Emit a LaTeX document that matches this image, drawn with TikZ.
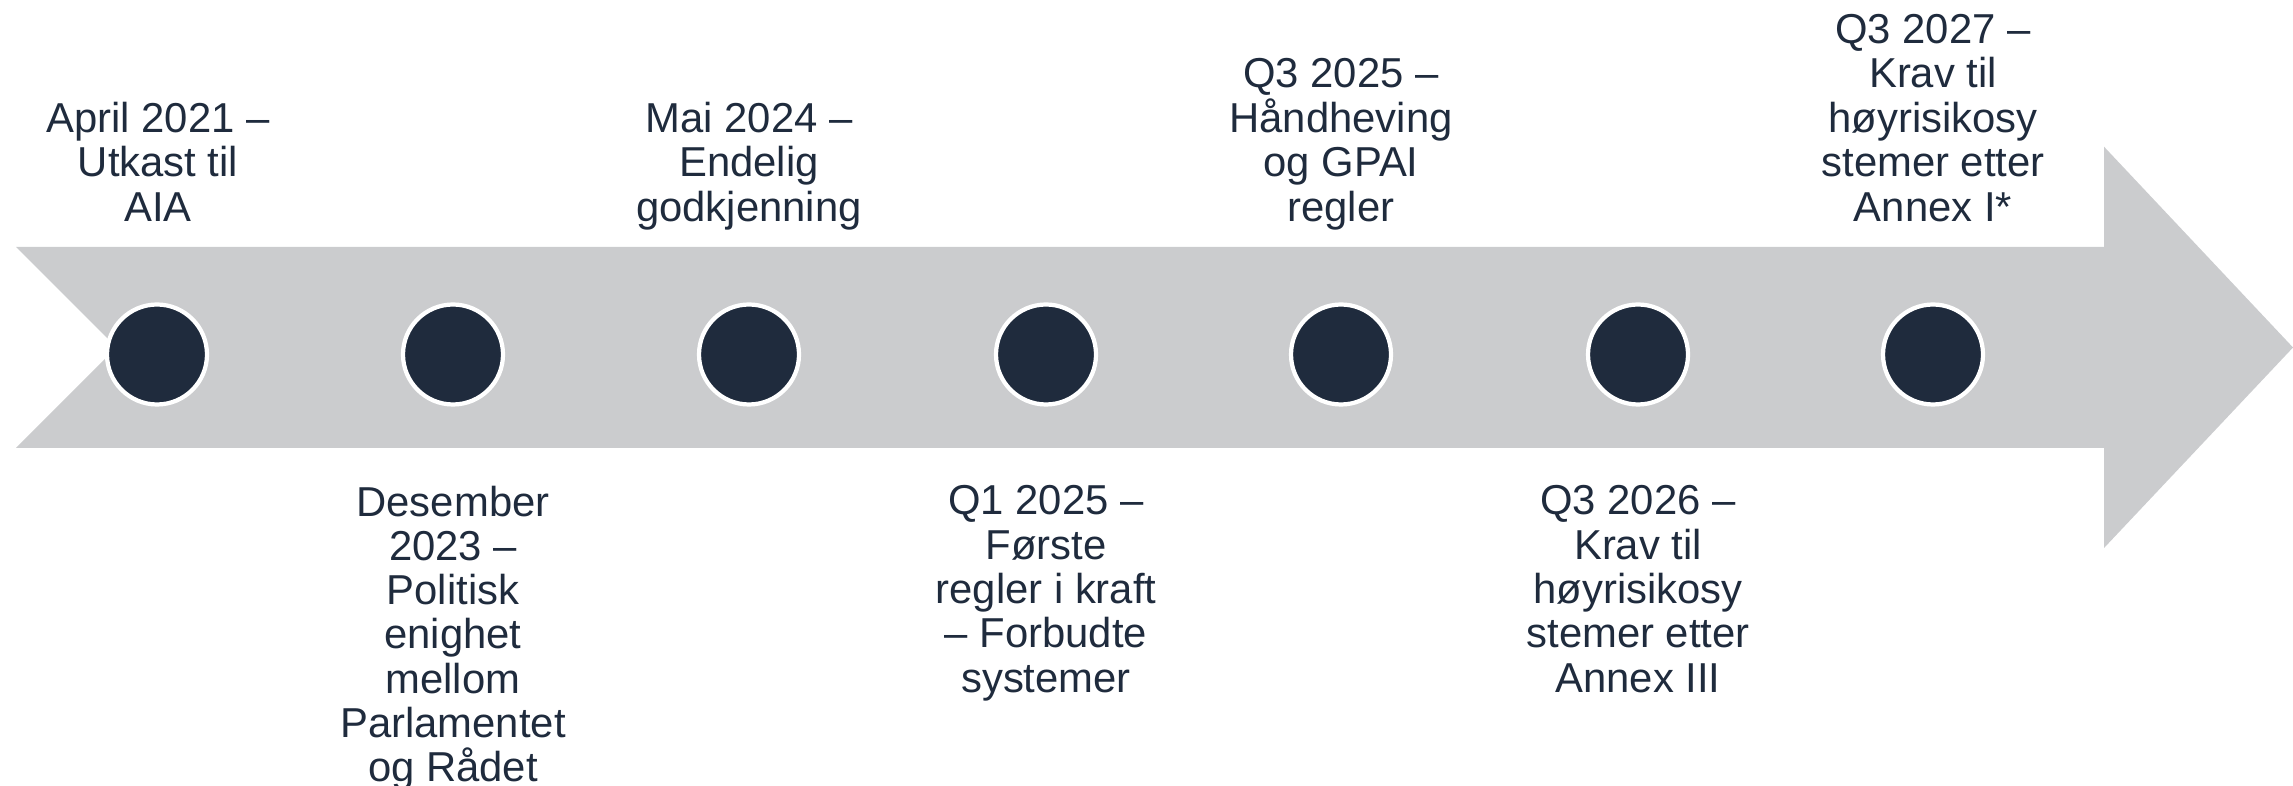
\documentclass[tikz,border=0pt]{standalone}
\usepackage{fontspec}
\setmainfont{Liberation Sans}
\usepackage{tikz}
\definecolor{arrowgray}{RGB}{203,204,206}
\definecolor{navy}{RGB}{31,43,61}
\tikzset{dot/.style={circle, fill=navy, draw=white, line width=1.2pt,
         minimum size=1.0cm, inner sep=0pt},
         toplabel/.style={anchor=south, align=center, inner sep=0pt,
         text=navy, font=\fontsize{11.9}{12.65}\selectfont, text depth=0pt},
         botlabel/.style={anchor=north, align=center, inner sep=0pt,
         text=navy, font=\fontsize{11.9}{12.6}\selectfont}}

\begin{document}
\begin{tikzpicture}
\useasboundingbox (0,0) rectangle (22.93,-7.86);
\fill [arrowgray] (0.16,-2.47) -- (21.04,-2.47) -- (21.04,-1.467) -- (22.93,-3.475)
  -- (21.04,-5.48) -- (21.04,-4.48) -- (0.16,-4.48) -- (1.165,-3.475) -- cycle;

\node [dot] (d1) at (1.57,-3.545) {};
\node [dot] (d2) at (4.53,-3.545) {};
\node [dot] (d3) at (7.49,-3.545) {};
\node [dot] (d4) at (10.46,-3.545) {};
\node [dot] (d5) at (13.41,-3.545) {};
\node [dot] (d6) at (16.38,-3.545) {};
\node [dot] (d7) at (19.33,-3.545) {};

\node [toplabel] (apr21) at (1.58,-2.22) {April 2021 –\\Utkast til\\AIA};
\node [toplabel] (mai24) at (7.49,-2.22) {Mai 2024 –\\Endelig\\godkjenning};
\node [toplabel] (q325) at (13.41,-2.22) {Q3 2025 –\\Håndheving\\og GPAI\\regler};
\node [toplabel] (q327) at (19.33,-2.22) {Q3 2027 –\\Krav til\\høyrisikosy\\stemer etter\\Annex I*};

\node [botlabel] (des23) at (4.53,-4.85) {Desember\\2023 –\\Politisk\\enighet\\mellom\\Parlamentet\\og Rådet};
\node [botlabel] (q125) at (10.46,-4.85) {Q1 2025 –\\Første\\regler i kraft\\– Forbudte\\systemer};
\node [botlabel] (q326) at (16.38,-4.85) {Q3 2026 –\\Krav til\\høyrisikosy\\stemer etter\\Annex III};
\end{tikzpicture}
\end{document}
